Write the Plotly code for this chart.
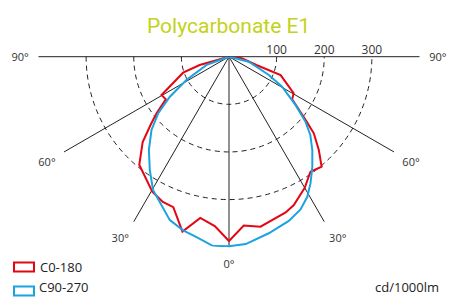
import plotly.graph_objects as go

W, H = 452, 297

title_text = "Polycarbonate E1"
series_names = ["C0-180", "C90-270"]
series_colors = ["#e30613", "#1ba3e0"]
unit_label = "cd/1000lm"

# C0-180 : angle from nadir (deg, negative = left) and intensity (cd/1000lm)
c0_theta = [-90, -74.1, -70.8, -60.4, -56, -52, -49, -45.3, -39.7, -29.6, -24.5,
            -20.3, -14.9, -10.1, -4.8, 0, 5, 10.5, 20, 23.6, 30, 35.3, 40.1,
            43.9, 47.9, 50.4, 56, 60.5, 70.4, 73.2, 83, 90]
c0_cd = [0, 64, 102, 163, 160, 193, 218, 255, 295, 326, 335,
         337, 380, 344, 357, 387, 356, 363, 348, 340, 318, 296, 302,
         272, 240, 209, 160, 156, 115, 60, 27, 0]

# C90-270
c90_theta = [-90, -69.8, -61.3, -55.9, -51.4, -46.6, -40.7, -35, -29.7, -19.9,
             -14.8, -10.2, -4.8, 0, 5.1, 12.7, 20, 25.1, 29.2, 32.8, 37.1,
             41.7, 46.1, 49.6, 54, 60.5, 65.3, 75.8, 90]
c90_cd = [0, 50, 102, 150, 190, 224, 258, 290, 322, 365,
          377, 385, 399, 398, 395, 380, 367, 354, 337, 316, 290,
          263, 237, 211, 173, 128, 92, 43, 0]

# angular ticks expressed inside the displayed sector: 270 = 90° left,
# 360 = nadir (0°), 450 = 90° right
angle_ticks = [270, 300, 330, 360, 390, 420, 450]
angle_labels = ["90°", "60°", "30°", "0°", "30°", "60°", "90°"]
radial_ticks = [100, 200, 300]
radial_labels = ["100", "200", "300"]
radial_max = 400

fig = go.Figure()
for th, r, name, col in [(c0_theta, c0_cd, series_names[0], series_colors[0]),
                         (c90_theta, c90_cd, series_names[1], series_colors[1])]:
    fig.add_trace(go.Scatterpolar(theta=th, r=r, mode="lines", name=name,
                                  line=dict(color=col, width=2), showlegend=False,
                                  hoverinfo="skip"))

def px_x(x):
    return x / W

def px_y(y):
    return 1 - y / H

cx, cy, R = 229.0, 56.7, 190.5

fig.update_layout(
    width=W, height=H,
    margin=dict(l=0, r=0, t=0, b=0),
    paper_bgcolor="white",
    plot_bgcolor="white",
    font=dict(family="Open Sans, Noto Sans, sans-serif", size=11, color="#333333"),
    polar=dict(
        domain=dict(x=[px_x(cx - R), px_x(cx + R)], y=[px_y(cy + R), px_y(cy)]),
        sector=[180, 360],
        bgcolor="white",
        angularaxis=dict(
            rotation=-90, direction="counterclockwise",
            tickmode="array", tickvals=angle_ticks, ticktext=angle_labels,
            showline=False, showgrid=True, gridcolor="#222222", gridwidth=1,
            ticks="outside", ticklen=7, tickcolor="rgba(0,0,0,0)",
            tickfont=dict(size=11, color="#333333"),
        ),
        radialaxis=dict(
            range=[0, radial_max], angle=0, side="counterclockwise", tickangle=0,
            tickmode="array", tickvals=radial_ticks, ticktext=radial_labels,
            showline=False, showgrid=True, gridcolor="#222222", gridwidth=1,
            griddash="5px,4px", ticks="", tickfont=dict(size=12, color="#333333"),
        ),
    ),
)

annotations = [
    dict(text=title_text, x=px_x(228), y=px_y(25.5), xref="paper", yref="paper",
         xanchor="center", yanchor="middle", showarrow=False,
         font=dict(family="Roboto, sans-serif", size=21, color="#c4d21a")),
    dict(text=unit_label, x=px_x(440), y=0, xref="paper", yref="paper",
         xanchor="right", yanchor="bottom", showarrow=False, borderpad=0,
         font=dict(size=13, color="#222222")),
]
shapes = []
for i, (name, col) in enumerate(zip(series_names, series_colors)):
    yc = 267 + 24 * i
    shapes.append(dict(type="rect", xref="paper", yref="paper",
                       x0=px_x(14), x1=px_x(34), y0=px_y(yc - 4.5), y1=px_y(yc + 4.5),
                       line=dict(color=col, width=2), fillcolor="white"))
    if i == 0:
        annotations.append(dict(text=name, x=px_x(38), y=px_y(yc), xref="paper",
                                yref="paper", xanchor="left", yanchor="middle",
                                showarrow=False, font=dict(size=13, color="#222222")))
    else:
        annotations.append(dict(text=name, x=px_x(38), y=0, xref="paper",
                                yref="paper", xanchor="left", yanchor="bottom",
                                borderpad=0, showarrow=False,
                                font=dict(size=13, color="#222222")))
fig.update_layout(annotations=annotations, shapes=shapes)

# remove the browser's default body margin so the figure sits at the page origin
fig.write_html("out.html", config={"displayModeBar": False},
               post_script="document.body.style.margin='0px';")
